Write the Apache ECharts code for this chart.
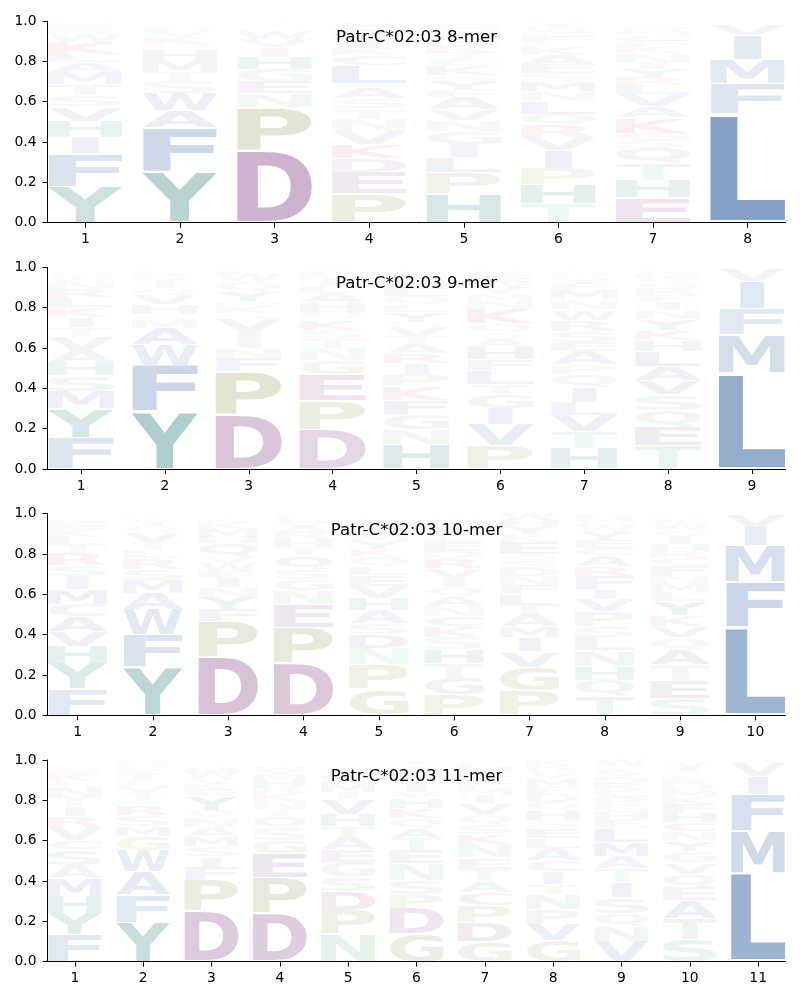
<!DOCTYPE html>
<html>
<head>
<meta charset="utf-8">
<title>Patr-C*02:03 logos</title>
<script src="https://cdn.jsdelivr.net/npm/echarts@6/dist/echarts.min.js"></script>
<style>
  html, body { margin: 0; background: #fff; }
  #chart { width: 800px; height: 1000px; }
</style>
</head>
<body>
<div id="chart"></div>
<script>
// letters per position, bottom to top; heights are percent of the stack
const letters8 = ['YFIHVSTMALKWRED', 'YFAWSTMHQKVELG', 'DPNEGHIVWLTSAQ', 'PEDKVNTSAGLCKIWMYQ', 'HPLIGNVAFYSKCTRMWQD', 'THPIVRQLNMSEAKGFCWYD', 'EHTQSGKAVLRYINKFCMWP', 'LFMIVA']
const heights8 = [
  [18, 16.5, 8, 8, 7, 5.5, 5.5, 6, 5, 4, 6, 4, 2.5, 2, 1.5],
  [25, 22, 8.5, 8.5, 6, 4.5, 6, 5.5, 2.5, 3.5, 3, 2, 1.5, 1.5],
  [36, 21, 7, 6, 6, 6, 5, 4, 4, 1, 1, 1, 1, 1],
  [14.5, 10.5, 7, 7, 6.5, 6, 5, 5, 5.5, 2, 9, 5, 3.5, 4, 3.5, 3, 2, 1],
  [14.3, 10.5, 7.5, 6.5, 6.5, 5.5, 5.5, 6, 3.5, 4.5, 3, 4.5, 3.5, 3, 4, 3, 3, 2, 2],
  [9.4, 9.6, 8, 9, 6.5, 6, 5.5, 6, 5, 5, 4, 4.5, 4.5, 4, 2, 3, 2.5, 2.5, 2, 1],
  [12.4, 8.6, 8.5, 7.5, 4, 3.5, 7.5, 5.5, 6, 4.5, 4, 4, 3, 5, 3, 3, 3, 2, 2, 1],
  [54, 15, 12, 12, 5.5, 1.5]
]
const letters9 = ['FYMSHAVTIKLRNWQGE', 'YFWAMSHVQTRLEG', 'DPFNIIVSKMYQWLAT', 'DPEGNTSKQHALIMFVW', 'HNGFKPIRATVSYLQEMWDC', 'PVIGTLFHASQKNMYWERDC', 'HTVLIQPAESRWNMFYKDGC', 'TEQSVALHKYNIFRGWDCP', 'LMFIVA']
const heights9 = [
  [15.5, 14.5, 8.5, 8, 6.5, 6, 6.5, 5, 5, 4.5, 4.5, 4.5, 4, 2.5, 2, 1.5, 1],
  [28.5, 23, 10, 8.5, 4, 3, 4.5, 5, 3, 5, 2, 1.5, 1, 1],
  [27, 21.5, 6.5, 5, 4.5, 4, 6, 3, 3.5, 2, 5, 5, 3, 2, 1, 1],
  [19.5, 14.5, 13, 7, 6, 5, 4, 5, 4, 4.5, 4.5, 3.5, 3, 2.5, 2, 1.5, 0.5],
  [12, 7.5, 7.5, 7, 7, 6, 5.5, 5, 4.5, 4, 4.5, 2.5, 5, 3.5, 4, 4, 4, 2, 2, 1],
  [11.5, 10.5, 8, 7, 5, 7, 5.5, 6, 4, 3, 4.5, 7.5, 4, 3, 3, 3, 3.5, 1.5, 1, 1.5],
  [10, 8.5, 8, 6.5, 7.5, 6.5, 5, 6.5, 4.5, 5.5, 5.5, 5, 5, 4.5, 3, 2.5, 2, 1.5, 1, 1.5],
  [11.5, 9.5, 8, 8, 7, 7, 7.5, 5.5, 5, 5.5, 4.5, 4, 3, 3.5, 3, 2.5, 2, 1.5, 1],
  [47.5, 19, 13, 13.5, 6, 1]
]
const letters10 = ['FYHVACMISRTLKENQG', 'YFWAMSRLTVQIKEG', 'DPFYNIEWVQHMKSTG', 'DPENGSQTHRAVLKM', 'GPNDSAHVELQKYMTIRFW', 'PGTHSKCNAQIVRDELYNMWF', 'PGVIMATLFNDSQEKRYHWC', 'TQHNLSPVIFRACEYWGMD', 'SETAQVKYLMNFCRHIGWPD', 'LFMIVA']
const heights10 = [
  [13, 12.5, 8.5, 7.5, 7.5, 6, 7.5, 6.5, 5.5, 6, 4, 4, 4, 3, 2, 1.5, 1],
  [24, 16, 12.5, 8, 6.5, 5.5, 5.5, 4, 4, 5, 3, 2, 2, 1, 1],
  [29, 17.5, 6, 6, 5, 4.5, 3.5, 4, 3, 7, 3, 4, 3, 2, 1.5, 1],
  [26, 17.5, 11.5, 7, 5.5, 5, 7, 4, 4, 3, 3, 2.5, 2, 1, 1],
  [13, 12, 8, 7, 5.5, 6.5, 6, 6, 5.5, 4, 5, 4, 4, 3, 3, 2.5, 2, 1.5, 1.5],
  [10, 8.5, 7.5, 6.5, 6, 5.5, 5, 5, 5, 4.5, 4.5, 5, 5, 3.5, 4.5, 3, 3, 2.5, 2, 2, 1.5],
  [12, 12, 7.5, 7, 5.5, 6, 4.5, 5.5, 4.5, 4.5, 4, 3.5, 3.5, 6, 3, 1, 4, 3, 3, 1],
  [9.5, 8, 7, 7.5, 6.5, 5.5, 7.5, 6, 5, 6.5, 5, 5.5, 3.5, 4, 4, 3, 2, 2, 2],
  [8.5, 9, 7.5, 7.5, 6, 5.5, 5.5, 7, 4.5, 4.5, 4, 5, 3.5, 3.5, 3.5, 4, 3, 3, 2, 2],
  [43.5, 22.5, 18, 9.5, 6, 0.5]
]
const letters11 = ['FYHMASCVRITNLKEGQW', 'YFAWGMSRQTVLIKEHN', 'DPFISMANQYEKVWHRLGT', 'DPEGSQTNKRHMYWAV', 'NPDSGEATHVIMRLQYFW', 'GDPSNETAQKHVILFMRWY', 'GDPCATENKSQVIMFYRHLW', 'GVPNTICALESHQDFMYWRK', 'VNQSITAMLEHGPCRDYKFW', 'STAEQVGYNCHFKMDRLPIW', 'LMFIVA']
const heights11 = [
  [13.5, 10.5, 8.5, 8.5, 6.5, 8, 4.5, 6.5, 5.5, 5, 4.5, 5.5, 2.5, 3.5, 2.5, 1.5, 1.5, 1.5],
  [19.5, 13.5, 11.5, 10.5, 7, 5, 5.5, 5, 2.5, 3.5, 3.5, 2.5, 3, 2.5, 2, 1.5, 1.5],
  [25, 15.5, 6.5, 5, 5, 5, 4.5, 4.5, 4, 7, 3, 3, 3, 3, 2, 1.5, 1, 1, 0.5],
  [24, 17.5, 12, 6.5, 6, 6, 3.5, 4, 4, 3, 3, 3, 2.5, 2, 1.5, 1.5],
  [13.5, 12, 9.5, 7, 7.5, 6, 6, 5.5, 6, 7.5, 3.5, 4.5, 3, 2, 2, 1.5, 1.5, 0.5],
  [14, 12.5, 7, 7, 8, 6.5, 6, 5, 5, 5, 5, 3, 4, 2.5, 2.5, 1.5, 2, 1.5, 2],
  [10, 9.5, 8.5, 6.5, 5.5, 6, 5.5, 6.5, 5, 5, 5, 5.5, 4, 3.5, 2.5, 3, 2.5, 2.5, 2, 1.5],
  [10.5, 8, 7.5, 7.5, 5, 6, 5.5, 6, 5, 5, 4, 5, 4, 4, 3.5, 4, 2.5, 2, 2.5, 2.5],
  [10, 7.5, 6.5, 8, 7.5, 6.5, 6, 7, 7, 4, 4, 4, 3.5, 3.5, 3, 3, 2.5, 2, 1.5, 3],
  [11, 10.5, 9, 6.5, 6.5, 5.5, 5.5, 5, 5, 4.5, 4.5, 4.5, 3.5, 3.5, 3, 2.5, 2, 1.5, 3.5, 2.5],
  [44, 21, 18, 9, 6.5, 1.5]
]

const panelLetters = [letters8, letters9, letters10, letters11]
const panelHeights = [heights8, heights9, heights10, heights11]
const panelTitles = ['Patr-C*02:03 8-mer', 'Patr-C*02:03 9-mer', 'Patr-C*02:03 10-mer', 'Patr-C*02:03 11-mer']
const yTicks = [0, 0.2, 0.4, 0.6, 0.8, 1]
const alphabet = 'ACDEFGHIKLMNPQRSTVWY'

// base colour per residue group, faded by letter height below
const groupColors = {
  LFMIVAW: [50, 98, 160],
  YH: [5, 100, 100],
  PG: [140, 140, 70],
  DEC: [128, 64, 128],
  KR: [205, 60, 60],
  STNQ: [85, 175, 110]
}

function letterColor(letter, h) {
  const key = Object.keys(groupColors).find(k => k.includes(letter))
  const c = groupColors[key]
  const alpha = Math.min(1, 1.1 * h)
  return `rgba(${c[0]},${c[1]},${c[2]},${alpha})`
}

// glyph boxes, used to stretch each letter onto its cell
const FONT = 'bold 100px "DejaVu Sans"'
const measureCtx = document.createElement('canvas').getContext('2d')
measureCtx.font = FONT
measureCtx.textAlign = 'left'
measureCtx.textBaseline = 'middle'
const glyphBox = {}
function getBox(letter) {
  if (!glyphBox[letter]) {
    const m = measureCtx.measureText(letter)
    glyphBox[letter] = {
      left: m.actualBoundingBoxLeft,
      right: m.actualBoundingBoxRight,
      up: m.actualBoundingBoxAscent,
      down: m.actualBoundingBoxDescent
    }
  }
  return glyphBox[letter]
}

const COL_WIDTH = 0.79
const VPAD = 0.025

function renderLetter(params, api) {
  const pos = api.value(0)
  const y0 = api.value(1)
  const y1 = api.value(2)
  const letter = alphabet[api.value(3)]
  const pad = (y1 - y0) * VPAD
  const topLeft = api.coord([pos - COL_WIDTH / 2, y1 - pad])
  const botRight = api.coord([pos + COL_WIDTH / 2, y0 + pad])
  const w = botRight[0] - topLeft[0]
  const h = botRight[1] - topLeft[1]

  const box = getBox(letter)
  const boxE = getBox('E')
  const glyphW = box.left + box.right
  // narrow glyphs such as I do not stretch further than E does
  const sx = Math.min(w / glyphW, w / (boxE.left + boxE.right))
  const sy = h / (box.up + box.down)
  const drawnW = glyphW * sx

  return {
    type: 'text',
    x: topLeft[0] + (w - drawnW) / 2 + box.left * sx,
    y: topLeft[1] + box.up * sy,
    scaleX: sx,
    scaleY: sy,
    silent: true,
    style: {
      text: letter,
      font: FONT,
      align: 'left',
      verticalAlign: 'middle',
      fill: letterColor(letter, y1 - y0)
    }
  }
}

function buildData(letters, heights) {
  const out = []
  letters.forEach((col, i) => {
    let base = 0
    col.split('').forEach((letter, j) => {
      const top = base + heights[i][j] / 100
      out.push([i + 1, base, top, alphabet.indexOf(letter)])
      base = top
    })
  })
  return out
}

const grids = [], xAxes = [], yAxes = [], titles = [], series = []
const axisText = { color: '#000', fontFamily: 'DejaVu Sans', fontSize: 13.9 }
const axisLineStyle = { color: '#000', width: 1 }

panelLetters.forEach((letters, k) => {
  const top = 21.1 + k * 246.3
  const n = letters.length
  const xTicks = letters.map((_, i) => i + 1)
  grids.push({ left: 47.5, right: 14.5, top: top, height: 201.6 })
  xAxes.push({
    type: 'value',
    gridIndex: k,
    min: 0.6,
    max: n + 0.4,
    splitLine: { show: false },
    axisLine: { show: true, onZero: false, lineStyle: axisLineStyle },
    axisTick: { show: true, length: 5, lineStyle: axisLineStyle, customValues: xTicks },
    axisLabel: Object.assign({ margin: 10, customValues: xTicks, formatter: v => String(v) }, axisText)
  })
  yAxes.push({
    type: 'value',
    gridIndex: k,
    min: 0,
    max: 1,
    splitLine: { show: false },
    axisLine: { show: true, onZero: false, lineStyle: axisLineStyle },
    axisTick: { show: true, length: 5, lineStyle: axisLineStyle, customValues: yTicks },
    axisLabel: Object.assign({ margin: 11, padding: [4, 0, 0, 0], customValues: yTicks, formatter: v => v.toFixed(1) }, axisText)
  })
  titles.push({
    text: panelTitles[k],
    left: 416.5,
    top: top + 8,
    padding: 0,
    textAlign: 'center',
    textStyle: { color: '#000', fontFamily: 'DejaVu Sans', fontSize: 16.67, fontWeight: 'normal' }
  })
  series.push({
    type: 'custom',
    xAxisIndex: k,
    yAxisIndex: k,
    silent: true,
    renderItem: renderLetter,
    data: buildData(letters, panelHeights[k])
  })
})

const chart = echarts.init(document.getElementById('chart'))
chart.setOption({
  animation: false,
  backgroundColor: '#fff',
  title: titles,
  grid: grids,
  xAxis: xAxes,
  yAxis: yAxes,
  series: series
})
</script>
</body>
</html>
